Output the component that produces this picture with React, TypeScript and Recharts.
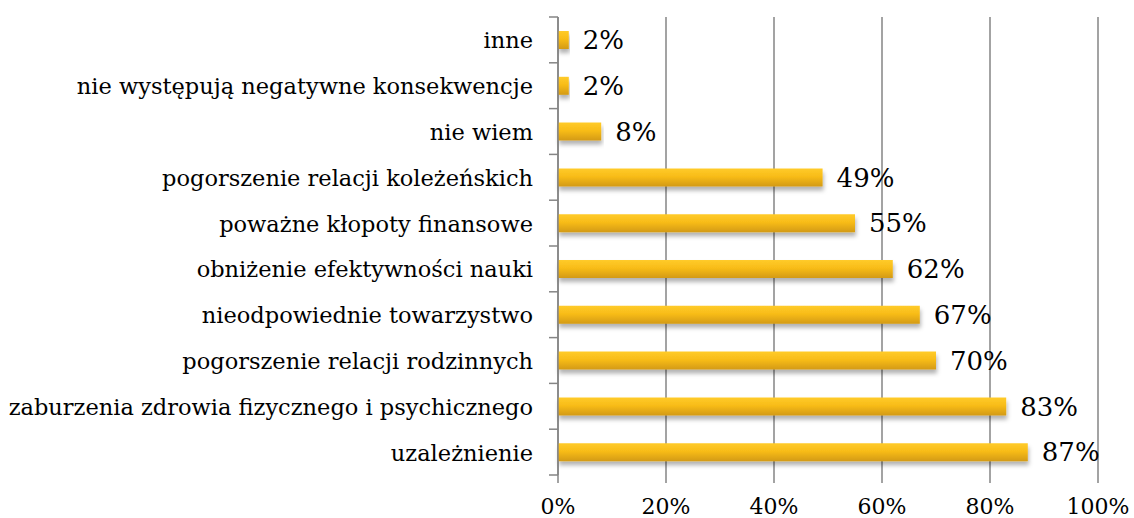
import React from 'react';
import { BarChart, Bar, XAxis, YAxis, CartesianGrid, LabelList } from 'recharts';

const categories = [
  'inne',
  'nie występują negatywne konsekwencje',
  'nie wiem',
  'pogorszenie relacji koleżeńskich',
  'poważne kłopoty finansowe',
  'obniżenie efektywności nauki',
  'nieodpowiednie towarzystwo',
  'pogorszenie relacji rodzinnych',
  'zaburzenia zdrowia fizycznego i psychicznego',
  'uzależnienie',
];
const values = [2, 2, 8, 49, 55, 62, 67, 70, 83, 87];
const xTicks = [0, 20, 40, 60, 80, 100];

const data = categories.map((name, i) => ({ name, value: values[i] }));

const W = 1134;
const H = 518;
const TOP = 17;
const X_AXIS_H = 43;
const Y_AXIS_W = 558;
const RIGHT = 36;
const FONT = '"DejaVu Serif", serif';
const GRID = '#858585';
const BAND = (H - TOP - X_AXIS_H) / categories.length;

const CatTick = (props: any) => {
  const { x, y, payload, index } = props;
  const isLast = index === categories.length - 1;
  return (
    <g>
      <text x={x} y={y} dy="0.38em" textAnchor="end" fontFamily={FONT} fontSize={22.5} fill="#000">
        {payload.value}
      </text>
      <line x1={Y_AXIS_W - 9} x2={Y_AXIS_W} y1={y - BAND / 2} y2={y - BAND / 2} stroke={GRID} strokeWidth={1.5} />
      {isLast && (
        <line x1={Y_AXIS_W - 9} x2={Y_AXIS_W} y1={y + BAND / 2} y2={y + BAND / 2} stroke={GRID} strokeWidth={1.5} />
      )}
    </g>
  );
};

export default function App() {
  return (
    <div style={{ position: 'absolute', left: 0, top: 0, width: W, height: H, background: '#fff' }}>
      <BarChart
        width={W}
        height={H}
        data={data}
        layout="vertical"
        margin={{ top: TOP, right: RIGHT, bottom: 0, left: 0 }}
        barCategoryGap={0}
      >
        <defs>
          <linearGradient id="goldGrad" x1="0" y1="0" x2="0" y2="1">
            <stop offset="0%" stopColor="#FFCB2A" />
            <stop offset="45%" stopColor="#F8BC18" />
            <stop offset="100%" stopColor="#D39A14" />
          </linearGradient>
          <filter id="barShadow" x="-5%" y="-50%" width="110%" height="250%">
            <feDropShadow dx="1" dy="4" stdDeviation="2" floodColor="#000" floodOpacity="0.3" />
          </filter>
        </defs>
        <CartesianGrid horizontal={false} vertical={true} stroke={GRID} strokeWidth={1.5} />
        <XAxis
          type="number"
          domain={[0, 100]}
          ticks={xTicks}
          interval={0}
          tickFormatter={(v: number) => `${v}%`}
          axisLine={false}
          tickLine={{ stroke: GRID, strokeWidth: 1.5 }}
          tickSize={8}
          tickMargin={15}
          height={X_AXIS_H}
          tick={{ fontFamily: FONT, fontSize: 22, fill: '#000' }}
        />
        <YAxis
          type="category"
          dataKey="name"
          width={Y_AXIS_W}
          axisLine={{ stroke: GRID, strokeWidth: 1.5 }}
          tickLine={false}
          tickSize={0}
          tickMargin={25}
          interval={0}
          tick={<CatTick />}
        />
        <Bar
          dataKey="value"
          fill="url(#goldGrad)"
          barSize={18}
          isAnimationActive={false}
          style={{ filter: 'url(#barShadow)' }}
        >
          <LabelList
            dataKey="value"
            position="right"
            offset={14}
            formatter={(v: any) => `${v}%`}
            style={{ fontFamily: FONT, fontSize: 26, fill: '#000' }}
          />
        </Bar>
      </BarChart>
    </div>
  );
}
